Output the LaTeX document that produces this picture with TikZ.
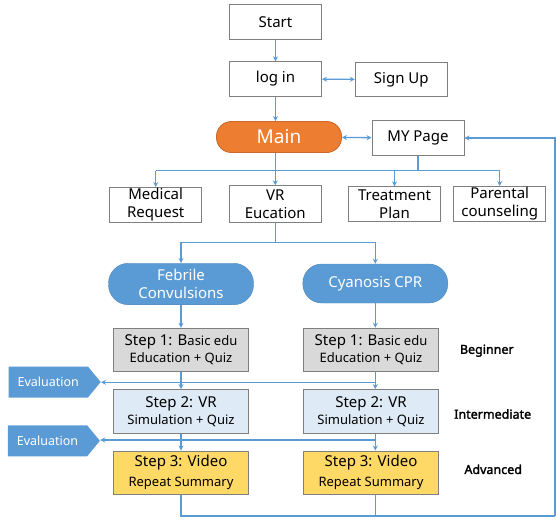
\documentclass[tikz,border=0pt]{standalone}
\usepackage{fontspec}
\setmainfont{Noto Sans}
\newfontfamily\levelfont{Noto Sans}[FakeBold=2]
\usetikzlibrary{arrows.meta,shapes.symbols}
\definecolor{linkblue}{HTML}{5B9BD5}
\definecolor{edgegray}{HTML}{7F7F7F}
\definecolor{mainorange}{HTML}{ED7D31}
\definecolor{stepgray}{HTML}{D9D9D9}
\definecolor{stepblue}{HTML}{DEEBF7}
\definecolor{stepgold}{HTML}{FFD966}
\newcommand{\fsz}[2]{\fontsize{#1}{#2}\selectfont}

\begin{document}
\begin{tikzpicture}[x=1pt, y=-1pt, >={Stealth[length=5pt,width=5pt]},
  every node/.style={font=\fsz{15}{18}, align=center},
  box/.style={draw=edgegray, line width=0.9pt, minimum width=92pt, minimum height=34.5pt, inner sep=1pt},
  stepbox/.style={box, minimum width=135pt, minimum height=43.5pt},
  pill/.style={fill=linkblue, draw=linkblue!85!black, text=white, rounded corners=19pt, minimum width=145pt, minimum height=39pt, inner sep=1pt},
  evalsig/.style={shape=signal, signal to=east, signal pointer angle=101, fill=linkblue, text=white, minimum width=92pt, minimum height=31pt, inner sep=1pt, anchor=west, font=\fsz{12.5}{15}},
  level/.style={font=\levelfont\fsz{12.5}{15}},
  link/.style={draw=linkblue, line width=1.3pt}]
\useasboundingbox (0,0) rectangle (556,520);

\node[box] (start) at (275.5,22) {Start};
\node[box] (login) at (275.5,79) {log in};
\node[box] (signup) at (401.3,79.5) {Sign Up};
\node[box, draw=mainorange!85!black, fill=mainorange, text=white, rounded corners=15pt, minimum width=125pt, minimum height=31pt, font=\fsz{19}{22}] (main) at (279,137) {Main};
\node[box] (mypage) at (418,138) {MY Page};
\node[box] (med) at (155.7,205) {Medical\\Request};
\node[box, minimum height=36.5pt] (vr) at (275.3,204) {VR\\Eucation};
\node[box] (treat) at (394.5,204) {Treatment\\Plan};
\node[box] (par) at (499.7,204) {Parental\\counseling};

\node[pill, minimum height=41.5pt, rounded corners=20pt] (feb) at (181,284) {Febrile\\Convulsions};
\node[pill] (cya) at (375.3,283.5) {Cyanosis CPR};

\node[stepbox, fill=stepgray] (s1l) at (181,350) {Step 1: B{\fsz{13}{16}asic edu}\\[-1pt]{\fsz{13}{16}Education + Quiz}};
\node[stepbox, fill=stepgray] (s1r) at (371,350) {Step 1: B{\fsz{13}{16}asic edu}\\[-1pt]{\fsz{13}{16}Education + Quiz}};
\node[stepbox, fill=stepblue] (s2l) at (181,411.3) {Step 2: VR\\[-1pt]{\fsz{13}{16}Simulation + Quiz}};
\node[stepbox, fill=stepblue] (s2r) at (371,411.3) {Step 2: VR\\[-1pt]{\fsz{13}{16}Simulation + Quiz}};
\node[stepbox, fill=stepgold] (s3l) at (181,472.7) {Step 3: Video\\[2pt]{\fsz{13}{16}Repeat Summary}};
\node[stepbox, fill=stepgold] (s3r) at (371,472.7) {Step 3: Video\\[2pt]{\fsz{13}{16}Repeat Summary}};

\node[evalsig] (ev1) at (8.5,382) {Evaluation};
\node[evalsig] (ev2) at (7.7,440.8) {Evaluation};

\node[level] (beg) at (486.8,350.7) {Beginner};
\node[level] (inter) at (492.7,414) {Intermediate};
\node[level] (adv) at (493.2,469.3) {Advanced};

\coordinate (bus) at (0,170.5);
\coordinate (fork) at (275.5,242.7);
\coordinate (e1) at (375.3,382.3);
\coordinate (e2) at (375.3,440);
\coordinate (ret) at (555,516);

\draw[link,->] (start) -- (login);
\draw[link,<->] (login) -- (signup);
\draw[link,->] (login.south) -- (main.north -| login);
\draw[link,<->] (main) -- (mypage);
\draw[link,->] (main.south -| vr) -- (vr);
\draw[link] (mypage.south) -- (bus -| mypage);
\draw[link] (bus -| med) -- (bus -| par);
\foreach \n in {med,treat,par}
  \draw[link,->] (bus -| \n) -- (\n);
\draw[link] (vr.south -| fork) -- (fork);
\draw[link,->] (fork) -| (feb);
\draw[link,->] (fork) -| (cya);
\draw[link,->] (feb) -- (s1l);
\draw[link,->] (cya) -- (s1r.north -| cya);
\draw[link,->] (s1l) -- (s2l);
\draw[link,->] (s1r.south -| cya) -- (s2r.north -| cya);
\draw[link,->] (s2l) -- (s3l);
\draw[link,->] (s2r.south -| cya) -- (s3r.north -| cya);
\draw[link,->] (e1) -- (e1 -| ev1.east);
\draw[link,->] (e2) -- (e2 -| ev2.east);
\draw[link] (s3l) |- (ret);
\draw[link] (s3r.south -| cya) -- (ret -| cya);
\draw[link,->] (ret) |- (mypage);
\end{tikzpicture}
\end{document}
